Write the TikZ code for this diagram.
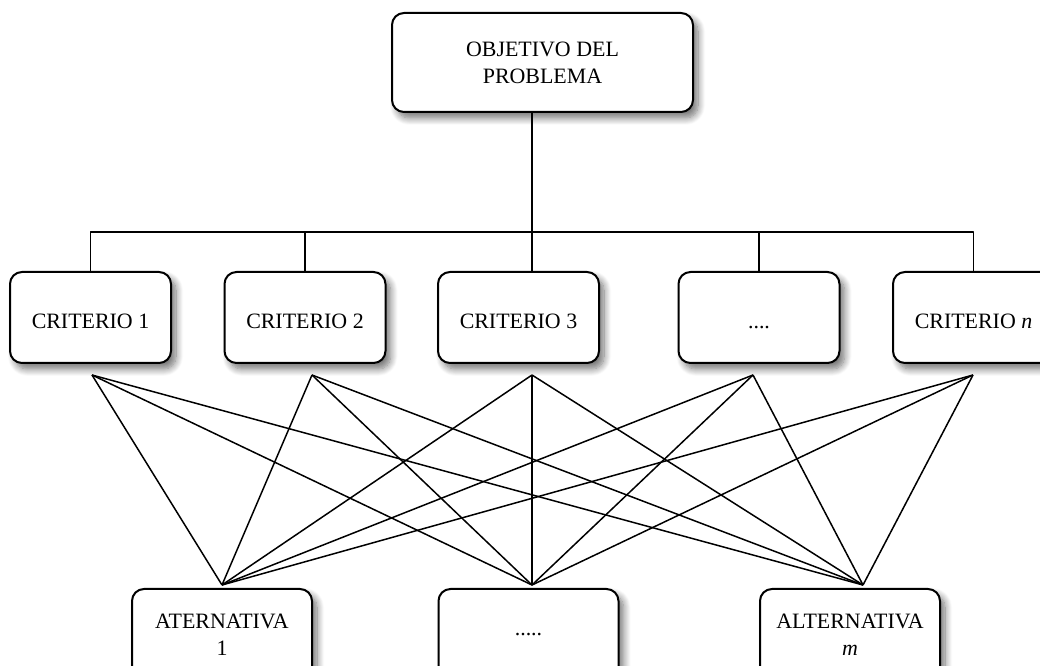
\documentclass[tikz,border=0pt]{standalone}
\usepackage{fontspec}
\setmainfont{Liberation Serif}
\usetikzlibrary{shadows.blur}
\begin{document}
\begin{tikzpicture}[line join=bevel,
  box/.style={draw,line width=1bp,rounded corners=6bp,fill=white,align=center,
    font=\fontsize{11}{13.5}\selectfont,minimum width=80.5bp,minimum height=45.5bp,
    blur shadow={shadow xshift=2.5bp,shadow yshift=-3bp,shadow blur radius=3.5bp,shadow blur steps=10,shadow opacity=55}},
  critbox/.style={box,text height=11bp,text depth=0bp},
  link/.style={black,line width=0.75bp}]
%%
\useasboundingbox (0bp,0bp) rectangle (520bp,333bp);
\node (node_obj) at (271.25bp,301.75bp) [box,minimum width=150.5bp,minimum height=49.5bp] {OBJETIVO DEL\\PROBLEMA};
  \node (node_crit_1) at (45.25bp,174.25bp) [critbox] {CRITERIO 1};
  \node (node_crit_2) at (152.5bp,174.25bp) [critbox] {CRITERIO 2};
  \node (node_crit_3) at (259.25bp,174.25bp) [critbox] {CRITERIO 3};
  \node (node_crit_4) at (379.5bp,174.25bp) [critbox] {....};
  \node (node_crit_5) at (486.75bp,174.25bp) [critbox] {CRITERIO \textit{n}};
  \node (node_alt_1) at (111bp,15.75bp) [box,minimum width=90bp] {ATERNATIVA\\1};
  \node (node_alt_2) at (264.25bp,15.75bp) [box,minimum width=90bp] {.....};
  \node (node_alt_3) at (425bp,15.75bp) [box,minimum width=90bp] {ALTERNATIVA\\\textit{m}};
%
  \coordinate (top_3) at (266bp,217bp);
  \coordinate (src_1) at (46bp,145.5bp);
  \coordinate (src_2) at (156bp,145.5bp);
  \coordinate (src_3) at (266bp,145.5bp);
  \coordinate (src_4) at (376.5bp,145.5bp);
  \coordinate (src_5) at (486.5bp,145.5bp);
  \coordinate (dst_1) at (111bp,40.5bp);
  \coordinate (dst_2) at (266bp,40.5bp);
  \coordinate (dst_3) at (431.5bp,40.5bp);
%
  \draw [link] (node_obj.south -| top_3) -- (top_3);
  \draw [link] (node_crit_1.north) -- (node_crit_1.north |- top_3) -- (node_crit_5.north |- top_3) -- (node_crit_5.north);
  \foreach \i in {2,4} \draw [link] (node_crit_\i.north |- top_3) -- (node_crit_\i.north);
  \draw [link] (top_3) -- (node_crit_3.north -| top_3);
  \foreach \i in {1,...,5}
    \foreach \j in {1,2,3}
      \draw [link] (src_\i) -- (dst_\j);
%
\end{tikzpicture}
\end{document}
